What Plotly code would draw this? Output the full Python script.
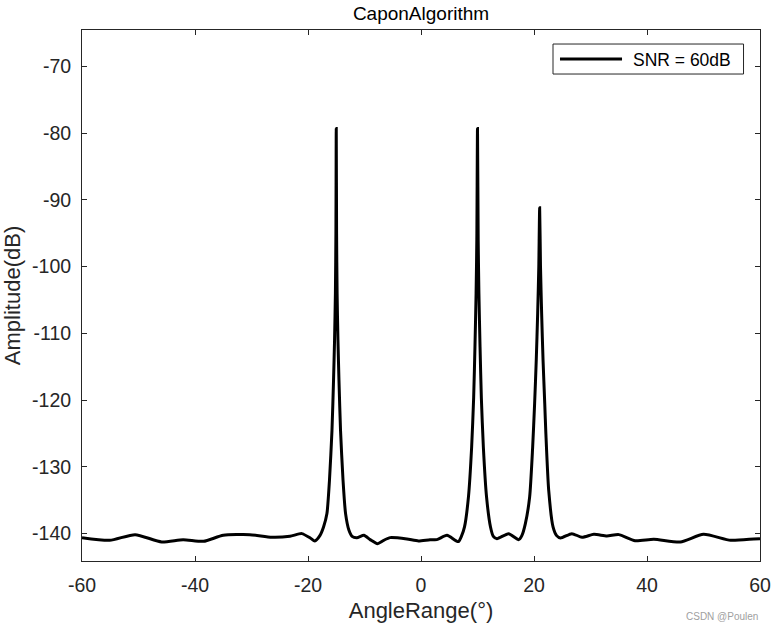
import plotly.graph_objects as go

# Capon spatial spectrum (angle in degrees, amplitude in dB)
angle_deg = [
    -60.0, -55.1, -50.6, -45.9, -42.1, -38.5, -35.0, -30.3, -26.4, -23.2, -21.1, -19.6, -18.8,
    -17.9, -17.25, -16.65, -16.2, -15.76, -15.48, -15.3, -15.15, -15.06, -15.0,
    -14.94, -14.85, -14.7, -14.52, -14.24, -13.8, -13.35, -12.75, -12.2, -11.35,
    -10.1, -9.0, -7.7, -6.6, -5.45, -2.5, -0.45, 1.6, 2.8, 4.6, 6.6,
    7.2, 7.7, 8.4, 8.96, 9.32, 9.55, 9.75, 9.88, 10.0,
    10.12, 10.25, 10.45, 10.68, 11.04, 11.6, 12.3, 12.8, 13.45, 15.5, 17.3,
    17.85, 18.47, 19.23, 19.76, 20.11, 20.4, 20.65, 20.85, 21.0,
    21.15, 21.35, 21.6, 21.9, 22.1, 22.6, 23.37, 24.0, 24.7, 26.7, 28.5, 30.6,
    32.9, 35.0, 37.9, 41.2, 45.9, 50.0, 54.8, 58.9, 60.0,
]
amplitude_db = [
    -140.6, -141.0, -140.15, -141.25, -140.9, -141.15, -140.25, -140.15, -140.55, -140.4, -140.0, -140.65, -141.1,
    -140.3, -139.0, -137.0, -132.0, -124.6, -117.0, -111.0, -104.0, -95.0, -79.3,
    -95.0, -104.0, -111.0, -117.0, -124.6, -132.0, -137.0, -139.5, -140.4, -140.6,
    -140.25, -140.9, -141.5, -141.0, -140.6, -140.8, -141.1, -140.9, -140.9, -140.25, -141.2,
    -140.3, -139.0, -134.5, -127.1, -119.6, -112.0, -104.0, -96.0, -79.3,
    -96.0, -104.0, -112.0, -119.6, -127.1, -134.5, -139.0, -140.4, -140.75, -140.0, -140.9,
    -140.3, -138.5, -134.5, -127.1, -120.5, -114.0, -107.0, -100.0, -91.2,
    -100.0, -107.0, -114.0, -120.5, -125.0, -133.5, -139.0, -140.3, -140.65, -140.0, -140.55, -140.1,
    -140.35, -140.15, -141.05, -140.85, -141.25, -140.1, -141.0, -140.8, -140.75,
]

x_ticks = [-60, -40, -20, 0, 20, 40, 60]
x_tick_labels = ["-60", "-40", "-20", "0", "20", "40", "60"]
y_ticks = [-140, -130, -120, -110, -100, -90, -80, -70]
y_tick_labels = ["-140", "-130", "-120", "-110", "-100", "-90", "-80", "-70"]
x_range = [-60, 60]
y_range = [-144.1, -64.56]

legend_label = "SNR = 60dB"
FONT = "Liberation Sans, Arial, Helvetica, sans-serif"
AXC = "#262626"

fig = go.Figure()
fig.add_trace(go.Scatter(
    x=angle_deg, y=amplitude_db, mode="lines", name=legend_label,
    line=dict(color="black", width=3, shape="spline", smoothing=0.6),
    showlegend=False,
))

axis_common = dict(
    showgrid=False, zeroline=False, showline=True, linecolor=AXC, linewidth=1,
    mirror="allticks", ticks="inside", ticklen=5, tickwidth=1, tickcolor=AXC,
    tickfont=dict(family=FONT, size=19.5, color=AXC), automargin=False,
)
fig.update_xaxes(range=x_range, tickvals=x_ticks, ticktext=x_tick_labels, ticklabelstandoff=7,
                 title=dict(text="AngleRange(°)", font=dict(family=FONT, size=22, color=AXC), standoff=7),
                 **axis_common)
fig.update_yaxes(range=y_range, tickvals=y_ticks, ticktext=y_tick_labels, ticklabelstandoff=6,
                 title=dict(text="Amplitude(dB)", font=dict(family=FONT, size=22, color=AXC), standoff=5),
                 **axis_common)

# legend box drawn like MATLAB's (long line sample)
fig.add_shape(type="rect", xref="paper", yref="paper", x0=0.6947, x1=0.9757, y0=0.9171, y1=0.9736,
              line=dict(color=AXC, width=1), fillcolor="white", layer="above")
fig.add_shape(type="line", xref="paper", yref="paper", x0=0.705, x1=0.7965, y0=0.9454, y1=0.9454,
              line=dict(color="black", width=3), layer="above")
fig.add_annotation(xref="paper", yref="paper", x=0.809, y=0.9440, xanchor="left", yanchor="middle",
                   text=legend_label, showarrow=False, font=dict(family=FONT, size=17.5, color="black"))

fig.add_annotation(xref="paper", yref="paper", x=1.0, y=-0.105, xanchor="right", yanchor="middle",
                   text="CSDN @Poulen", showarrow=False, font=dict(family=FONT, size=10, color="#a0a0a0"))

fig.update_layout(
    width=773, height=630,
    margin=dict(l=82, r=13, t=30, b=69, autoexpand=False),
    paper_bgcolor="white", plot_bgcolor="white",
    title=dict(text="CaponAlgorithm", x=0.5, xref="paper", y=1 - 13 / 630, yref="container",
               yanchor="middle", font=dict(family=FONT, size=19, color="black")),
)

fig.write_html("out.html")
